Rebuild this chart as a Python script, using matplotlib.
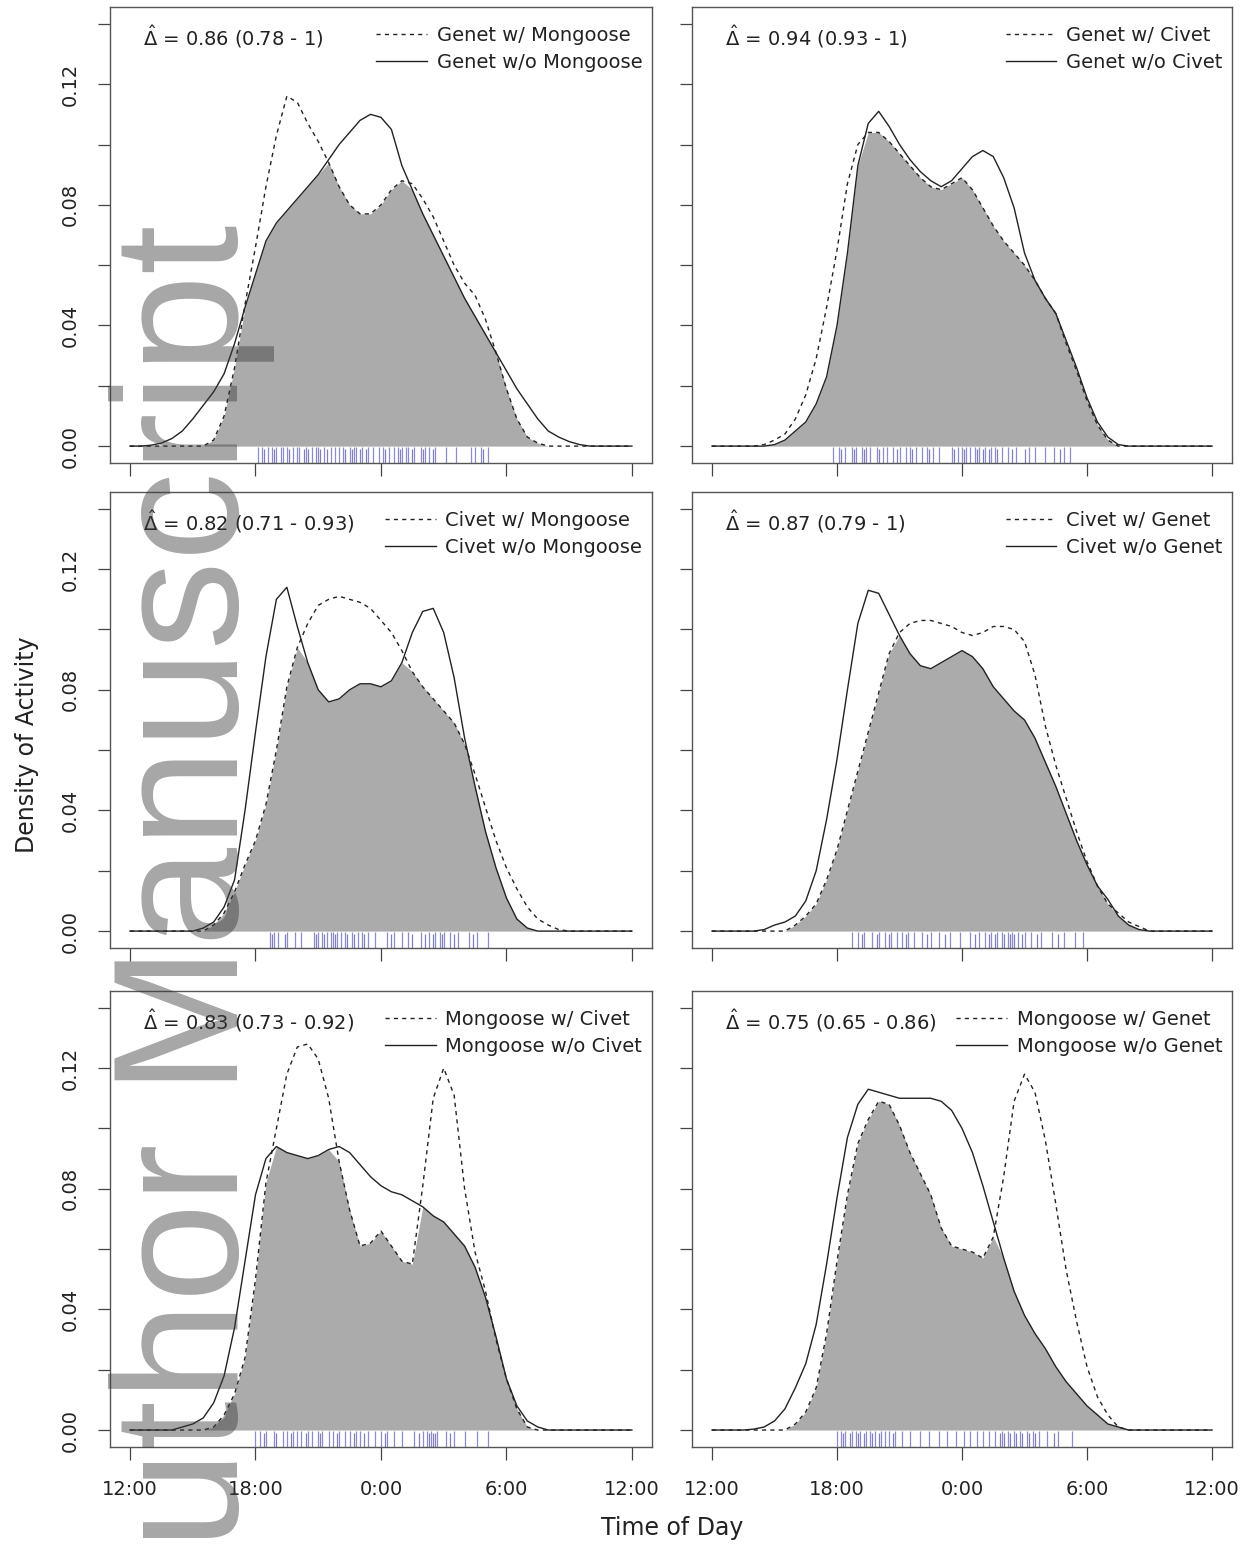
import numpy as np
import matplotlib
matplotlib.use('Agg')
import matplotlib.pyplot as plt
from matplotlib.transforms import blended_transform_factory

# Hours since noon (12:00 -> 0, 0:00 -> 12, next 12:00 -> 24)
hours = np.arange(0, 24.01, 0.5)

# Panel 1: Genet w/ vs w/o Mongoose
genet_w_mongoose = [0, 0, 0, 0, 0, 0, 0, 0,
                    0.002, 0.010, 0.026, 0.047, 0.066, 0.086, 0.103, 0.116, 0.114, 0.107,
                    0.101, 0.094, 0.086, 0.080, 0.077, 0.077, 0.080, 0.085, 0.088, 0.087,
                    0.082, 0.076, 0.068, 0.060, 0.054, 0.050, 0.042, 0.031, 0.019, 0.009,
                    0.003, 0.001,
                    0, 0, 0, 0, 0, 0, 0, 0, 0]
genet_wo_mongoose = [0, 0, 0.0003, 0.001, 0.0025, 0.005, 0.009, 0.0135, 0.018, 0.024,
                     0.034, 0.046, 0.057, 0.068, 0.074, 0.078, 0.082, 0.086, 0.090, 0.095,
                     0.100, 0.104, 0.108, 0.110, 0.109, 0.105, 0.093, 0.085, 0.077, 0.070,
                     0.063, 0.056, 0.049, 0.043, 0.037, 0.031, 0.025, 0.019, 0.014, 0.009,
                     0.005, 0.003, 0.0015, 0.0005, 0, 0, 0, 0, 0]

# Panel 2: Genet w/ vs w/o Civet
genet_w_civet = [0, 0, 0, 0, 0,
                 0.0005, 0.002, 0.004, 0.009, 0.017, 0.029, 0.046, 0.065, 0.087, 0.100,
                 0.104, 0.104, 0.101, 0.097, 0.093, 0.089, 0.086, 0.085, 0.087, 0.089,
                 0.085, 0.079, 0.073, 0.068, 0.064, 0.060, 0.055, 0.049, 0.044, 0.034,
                 0.025, 0.015, 0.007, 0.002, 0,
                 0, 0, 0, 0, 0, 0, 0, 0, 0]
genet_wo_civet = [0, 0, 0, 0, 0, 0,
                  0.0005, 0.002, 0.005, 0.008, 0.014, 0.023, 0.040, 0.064, 0.093, 0.107,
                  0.111, 0.106, 0.100, 0.095, 0.091, 0.088, 0.086, 0.088, 0.092, 0.096,
                  0.098, 0.096, 0.089, 0.079, 0.064, 0.055, 0.049, 0.044, 0.035, 0.026,
                  0.016, 0.008, 0.003, 0.0005,
                  0, 0, 0, 0, 0, 0, 0, 0, 0]

# Panel 3: Civet w/ vs w/o Mongoose
civet_w_mongoose = [0, 0, 0, 0, 0, 0, 0, 0,
                    0.002, 0.006, 0.013, 0.022, 0.030, 0.042, 0.060, 0.081, 0.094, 0.102,
                    0.108, 0.110, 0.111, 0.110, 0.109, 0.107, 0.103, 0.099, 0.093, 0.086,
                    0.081, 0.077, 0.073, 0.069, 0.062, 0.052, 0.041, 0.030, 0.021, 0.014,
                    0.008, 0.004, 0.002, 0.0005,
                    0, 0, 0, 0, 0, 0, 0]
civet_wo_mongoose = [0, 0, 0, 0, 0, 0, 0,
                     0.001, 0.003, 0.008, 0.017, 0.040, 0.066, 0.091, 0.110, 0.114, 0.101,
                     0.089, 0.080, 0.076, 0.077, 0.080, 0.082, 0.082, 0.081, 0.083, 0.089,
                     0.099, 0.106, 0.107, 0.099, 0.084, 0.064, 0.048, 0.033, 0.021, 0.011,
                     0.004, 0.001,
                     0, 0, 0, 0, 0, 0, 0, 0, 0, 0]

# Panel 4: Civet w/ vs w/o Genet
civet_w_genet = [0, 0, 0, 0, 0, 0, 0, 0,
                 0.002, 0.005, 0.009, 0.017, 0.027, 0.040, 0.053, 0.066, 0.079, 0.092,
                 0.099, 0.102, 0.103, 0.103, 0.102, 0.101, 0.099, 0.098, 0.099, 0.101,
                 0.101, 0.100, 0.096, 0.085, 0.068, 0.055, 0.044, 0.033, 0.023, 0.015,
                 0.009, 0.006, 0.003, 0.0015,
                 0, 0, 0, 0, 0, 0, 0]
civet_wo_genet = [0, 0, 0, 0, 0,
                  0.0005, 0.002, 0.003, 0.005, 0.010, 0.020, 0.037, 0.057, 0.080, 0.102,
                  0.113, 0.112, 0.105, 0.098, 0.092, 0.088, 0.087, 0.089, 0.091, 0.093,
                  0.091, 0.087, 0.081, 0.077, 0.073, 0.070, 0.064, 0.056, 0.048, 0.039,
                  0.030, 0.022, 0.015, 0.0105, 0.005, 0.002, 0.0005,
                  0, 0, 0, 0, 0, 0, 0]

# Panel 5: Mongoose w/ vs w/o Civet
mongoose_w_civet = [0, 0, 0, 0, 0, 0, 0, 0,
                    0.001, 0.005, 0.012, 0.024, 0.050, 0.082, 0.100, 0.118, 0.127, 0.128,
                    0.123, 0.110, 0.089, 0.073, 0.061, 0.062, 0.066, 0.061, 0.056, 0.055,
                    0.081, 0.110, 0.120, 0.111, 0.080, 0.059, 0.046, 0.030, 0.017, 0.007,
                    0.001,
                    0, 0, 0, 0, 0, 0, 0, 0, 0, 0]
mongoose_wo_civet = [0, 0, 0, 0, 0,
                     0.001, 0.002, 0.004, 0.009, 0.018, 0.034, 0.056, 0.078, 0.090, 0.094,
                     0.092, 0.091, 0.090, 0.091, 0.093, 0.094, 0.092, 0.088, 0.084, 0.081,
                     0.079, 0.078, 0.076, 0.074, 0.071, 0.069, 0.065, 0.061, 0.054, 0.044,
                     0.031, 0.017, 0.008, 0.003, 0.001,
                     0, 0, 0, 0, 0, 0, 0, 0, 0]

# Panel 6: Mongoose w/ vs w/o Genet
mongoose_w_genet = [0, 0, 0, 0, 0, 0, 0, 0,
                    0.002, 0.006, 0.014, 0.032, 0.056, 0.078, 0.095, 0.103, 0.109, 0.108,
                    0.101, 0.092, 0.085, 0.078, 0.067, 0.061, 0.060, 0.059, 0.057, 0.064,
                    0.084, 0.109, 0.118, 0.112, 0.096, 0.075, 0.053, 0.036, 0.021, 0.011,
                    0.005, 0.001,
                    0, 0, 0, 0, 0, 0, 0, 0, 0]
mongoose_wo_genet = [0, 0, 0, 0,
                     0.0003, 0.001, 0.003, 0.007, 0.014, 0.022, 0.035, 0.055, 0.077, 0.097,
                     0.108, 0.113, 0.112, 0.111, 0.110, 0.110, 0.110, 0.110, 0.109, 0.106,
                     0.100, 0.092, 0.081, 0.069, 0.057, 0.046, 0.038, 0.032, 0.027, 0.021,
                     0.016, 0.012, 0.008, 0.005, 0.002, 0.001,
                     0, 0, 0, 0, 0, 0, 0, 0, 0]

# Rug marks (observation times, hours since noon), two sets per panel
rug1 = [6.1, 6.3, 6.6, 6.8, 7.0, 7.2, 7.3, 7.5, 7.8, 8.0, 8.1, 8.4, 8.7, 8.9, 9.0, 9.3, 9.6,
        9.8, 10.0, 10.2, 10.5, 10.7, 10.8, 11.1, 11.4, 11.6, 11.9, 12.1, 12.4, 12.6, 12.8,
        13.0, 13.2, 13.3, 13.6, 13.9, 14.1, 14.3, 14.6, 15.1, 15.6, 16.3, 16.5, 16.8, 17.1]
rug1b = [6.4, 6.9, 7.6, 8.3, 8.5, 9.1, 9.4, 10.3, 10.6, 11.0, 11.3, 12.2, 12.9, 13.5, 14.0,
         14.5, 16.9]
rug2 = [5.8, 6.1, 6.4, 6.7, 6.9, 7.2, 7.4, 7.6, 7.9, 8.2, 8.4, 8.7, 9.0, 9.3, 9.5, 9.8, 10.1,
        10.3, 10.6, 10.9, 11.5, 11.8, 12.0, 12.2, 12.4, 12.6, 12.8, 13.1, 13.4, 13.6, 13.9,
        14.2, 14.6, 15.2, 15.5, 16.0, 16.4, 16.9, 17.2]
rug2b = [6.2, 6.8, 7.3, 8.0, 8.9, 9.6, 10.4, 11.6, 12.1, 12.7, 13.0, 13.3, 13.7, 14.4, 15.0,
         16.7]
rug3 = [6.7, 6.9, 7.1, 7.5, 7.9, 8.2, 8.8, 9.0, 9.2, 9.4, 9.6, 9.7, 9.9, 10.1, 10.3, 10.6,
        10.9, 11.1, 11.4, 11.7, 12.3, 12.6, 13.0, 13.3, 13.9, 14.3, 14.6, 14.8, 15.0, 15.3,
        15.7, 16.2, 16.6, 17.1]
rug3b = [6.8, 7.4, 8.9, 9.3, 9.8, 10.4, 10.7, 11.2, 12.5, 13.5, 14.1, 14.5, 14.9, 15.5, 16.4]
rug4 = [6.7, 7.0, 7.3, 7.7, 8.0, 8.3, 8.6, 8.9, 9.1, 9.4, 9.7, 10.1, 10.5, 10.9, 11.4, 11.9,
        12.4, 12.8, 13.1, 13.4, 13.7, 13.9, 14.2, 14.4, 14.7, 15.0, 15.3, 15.8, 16.3, 16.9,
        17.4, 17.8]
rug4b = [7.2, 7.9, 8.5, 9.3, 10.3, 11.2, 12.6, 13.3, 13.6, 14.0, 14.3, 14.5, 14.9, 15.6, 16.6]
rug5 = [6.0, 6.2, 6.5, 6.9, 7.3, 7.5, 7.8, 8.0, 8.2, 8.5, 8.7, 9.0, 9.2, 9.5, 9.7, 10.0, 10.3,
        10.5, 10.8, 11.0, 11.4, 11.7, 12.0, 12.3, 12.6, 13.0, 13.6, 14.0, 14.2, 14.4, 14.7,
        15.1, 15.5, 16.0, 16.6, 17.1]
rug5b = [6.4, 7.0, 7.7, 8.4, 9.1, 9.9, 10.7, 11.2, 12.2, 13.8, 14.3, 14.5, 14.6, 15.3]
rug6 = [6.0, 6.2, 6.4, 6.7, 6.9, 7.1, 7.4, 7.6, 7.8, 8.1, 8.3, 8.5, 8.8, 9.1, 9.5, 10.0, 10.4,
        10.9, 11.3, 11.7, 12.1, 12.4, 12.7, 13.0, 13.3, 13.6, 13.9, 14.2, 14.5, 14.8, 15.1,
        15.4, 15.7, 16.1, 16.6, 17.3]
rug6b = [6.3, 6.6, 7.0, 7.3, 7.7, 8.0, 8.7, 13.8, 14.0, 14.3, 14.6, 14.9, 15.2, 15.5, 16.4]

deltas = ["0.86 (0.78 - 1)", "0.94 (0.93 - 1)", "0.82 (0.71 - 0.93)",
          "0.87 (0.79 - 1)", "0.83 (0.73 - 0.92)", "0.75 (0.65 - 0.86)"]
labels = [("Genet w/ Mongoose", "Genet w/o Mongoose"),
          ("Genet w/ Civet", "Genet w/o Civet"),
          ("Civet w/ Mongoose", "Civet w/o Mongoose"),
          ("Civet w/ Genet", "Civet w/o Genet"),
          ("Mongoose w/ Civet", "Mongoose w/o Civet"),
          ("Mongoose w/ Genet", "Mongoose w/o Genet")]
curves = [(genet_w_mongoose, genet_wo_mongoose), (genet_w_civet, genet_wo_civet),
          (civet_w_mongoose, civet_wo_mongoose), (civet_w_genet, civet_wo_genet),
          (mongoose_w_civet, mongoose_wo_civet), (mongoose_w_genet, mongoose_wo_genet)]
rugs = [(rug1, rug1b), (rug2, rug2b), (rug3, rug3b), (rug4, rug4b), (rug5, rug5b), (rug6, rug6b)]

xticks = [0, 6, 12, 18, 24]
xticklabels = ['12:00', '18:00', '0:00', '6:00', '12:00']
yticks = [0, 0.02, 0.04, 0.06, 0.08, 0.10, 0.12, 0.14]
yticklabels = ['0.00', '', '0.04', '', '0.08', '', '0.12', '']

fig = plt.figure(figsize=(12.55, 15.49), dpi=100)

col_left = [0.0876, 0.5514]
col_width = [0.4319, 0.4303]
row_bottom = [0.7011, 0.3880, 0.0659]
row_height = 0.2944

for i in range(6):
    r, c = divmod(i, 2)
    ax = fig.add_axes([col_left[c], row_bottom[r], col_width[c], row_height])
    dashed = np.array(curves[i][0])
    solid = np.array(curves[i][1])

    ax.fill_between(hours, 0, np.minimum(dashed, solid), color='#ababab', lw=0)
    ax.plot(hours, dashed, color='#222222', lw=1.0, linestyle=(0, (3, 3)), label=labels[i][0])
    ax.plot(hours, solid, color='#222222', lw=1.0, label=labels[i][1])

    # rug along the bottom edge
    trans = blended_transform_factory(ax.transData, ax.transAxes)
    ax.vlines(rugs[i][0], 0, 0.035, transform=trans, color='#4040a8', lw=0.9, alpha=0.6)
    ax.vlines(rugs[i][1], 0, 0.03, transform=trans, color='#2a2a90', lw=0.9, alpha=0.6)

    ax.set_xlim(-0.96, 24.96)
    ax.set_ylim(-0.0056, 0.1456)
    ax.set_xticks(xticks)
    ax.set_yticks(yticks)
    if r == 2:
        ax.set_xticklabels(xticklabels)
    else:
        ax.set_xticklabels([])
    if c == 0:
        ax.set_yticklabels(yticklabels, rotation=90, va='center')
    else:
        ax.set_yticklabels([])
    ax.tick_params(axis='both', direction='out', length=9, width=0.9, color='#444444',
                   labelsize=14, labelcolor='#222222')
    ax.tick_params(axis='x', pad=15)
    ax.tick_params(axis='y', pad=13)
    for sp in ax.spines.values():
        sp.set_color('#555555')
        sp.set_linewidth(1.0)

    ax.text(0.061, 0.915, r'$\hat{\Delta}$ = ' + deltas[i], transform=ax.transAxes,
            fontsize=14, color='#222222', ha='left', va='baseline')
    ax.legend(loc='upper right', bbox_to_anchor=(1, 0.979), frameon=False, fontsize=14,
              handlelength=2.6, handletextpad=0.5, labelspacing=0.4, borderaxespad=0.2,
              borderpad=0.3, labelcolor='#222222')

fig.text(27 / 1255, 1 - 745 / 1549, 'Density of Activity', rotation=90,
         ha='center', va='center', fontsize=17, color='#222222')
fig.text(672 / 1255, 1 - 1528 / 1549, 'Time of Day', ha='center', va='center',
         fontsize=17, color='#222222')

# "Author Manuscript" watermark
fig.text(0.19, 0.855, 'Author Manuscript', rotation=90, rotation_mode='anchor',
         ha='right', va='baseline', fontsize=128, family='Liberation Sans',
         color='#3a3a3a', alpha=0.45)

plt.savefig('out.png', dpi=100)
